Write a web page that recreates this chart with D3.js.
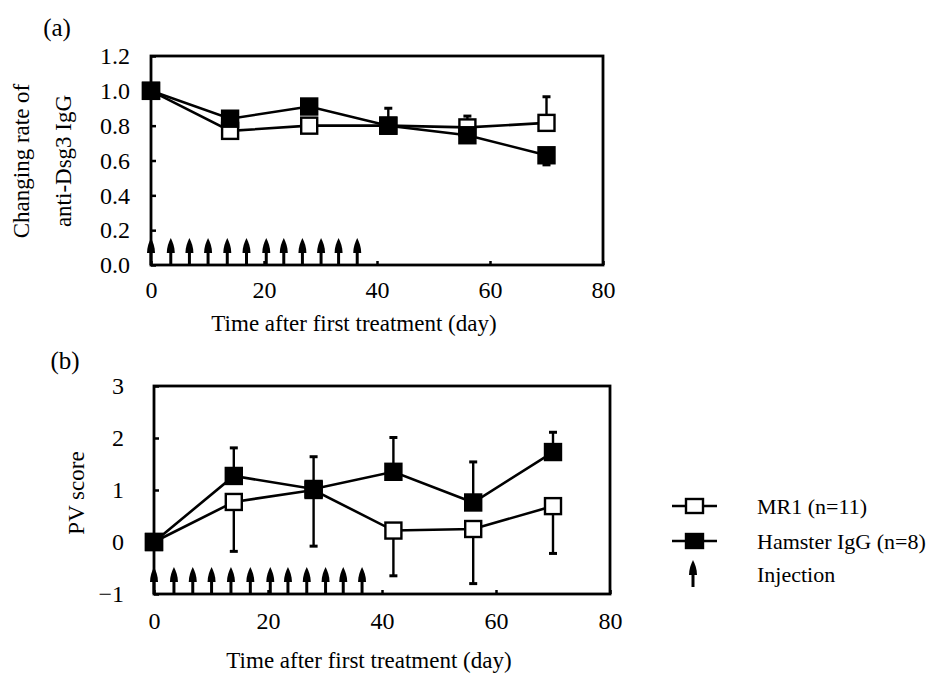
<!DOCTYPE html>
<html>
<head>
<meta charset="utf-8">
<script src="https://cdn.jsdelivr.net/npm/d3@7"></script>
<style>
  body { margin: 0; background: #fff; }
  svg text { font-family: "Liberation Serif", "Times New Roman", Times, "DejaVu Serif", serif; fill: #000; }
</style>
</head>
<body>
<div id="chart"></div>
<script>
// ---------------- data ----------------
var days = [0, 14, 28, 42, 56, 70];
var injectionDays = [0, 3.5, 6.8, 10.1, 13.5, 16.9, 20.4, 23.5, 26.8, 30.1, 33.2, 36.5];

// (a) changing rate of anti-Dsg3 IgG
var rateMR1 = [1.0, 0.77, 0.80, 0.80, 0.79, 0.816];
var rateMR1Err = [0, 0, 0, 0.10, 0.065, 0.15];      // drawn upward
var rateHam = [1.0, 0.84, 0.91, 0.80, 0.745, 0.63];
var rateHamErr = [0, 0, 0, 0, 0, 0.055];             // drawn downward

// (b) PV score
var scoreMR1 = [0, 0.77, 1.0, 0.22, 0.25, 0.69];
var scoreMR1Err = [0, 0.95, 1.08, 0.87, 1.05, 0.91]; // drawn downward
var scoreHam = [0, 1.27, 1.02, 1.35, 0.76, 1.73];
var scoreHamErr = [0, 0.54, 0.62, 0.66, 0.78, 0.38]; // drawn upward

var xTicks = [0, 20, 40, 60, 80];
var rateTicks = [0, 0.2, 0.4, 0.6, 0.8, 1.0, 1.2];
var scoreTicks = [-1, 0, 1, 2, 3];
var legendLabels = ["MR1 (n=11)", "Hamster IgG (n=8)", "Injection"];

// ---------------- drawing ----------------
var svg = d3.select("#chart").append("svg")
    .attr("width", 939)
    .attr("height", 679);

// upward injection arrow standing on the x axis
function drawArrow(g, x, yBase, len) {
  g.append("line")
    .attr("x1", x).attr("x2", x)
    .attr("y1", yBase).attr("y2", yBase - len + 10)
    .attr("stroke", "#000").attr("stroke-width", 3);
  g.append("path")
    .attr("d", "M" + x + "," + (yBase - len) +
               " C" + (x + 2) + "," + (yBase - len + 4) + " " + (x + 4) + "," + (yBase - len + 9) +
               " " + (x + 4) + "," + (yBase - len + 15) +
               " L" + (x - 4) + "," + (yBase - len + 15) +
               " C" + (x - 4) + "," + (yBase - len + 9) + " " + (x - 2) + "," + (yBase - len + 4) +
               " " + x + "," + (yBase - len) + " Z")
    .attr("fill", "#000");
}

function styleAxis(a) {
  a.attr("font-family", null).attr("font-size", null);
  a.select(".domain").remove();
  a.selectAll("line").attr("stroke-width", 2.5);
  a.selectAll("text").style("font-size", "24px");
}

function drawPanel(p) {
  var g = svg.append("g");

  var x = d3.scaleLinear().domain([0, 80]).range([p.left, p.right]);
  var y = d3.scaleLinear().domain(p.yDomain).range([p.bottom, p.top]);

  // axes with inward ticks
  g.append("g")
    .attr("transform", "translate(0," + p.bottom + ")")
    .call(d3.axisBottom(x).tickValues(xTicks).tickSize(-4).tickPadding(p.xPad))
    .call(styleAxis);

  g.append("g")
    .attr("transform", "translate(" + p.left + ",0)")
    .call(d3.axisLeft(y).tickValues(p.yTicks).tickFormat(p.yFormat).tickSize(-5).tickPadding(p.yPad))
    .call(styleAxis);

  // frame
  g.append("rect")
    .attr("x", p.left).attr("y", p.top)
    .attr("width", p.right - p.left).attr("height", p.bottom - p.top)
    .attr("fill", "none").attr("stroke", "#000").attr("stroke-width", 2.8);

  // injection arrows
  injectionDays.forEach(function(d) { drawArrow(g, x(d), p.bottom, 27); });

  var series = [
    {vals: p.mr1, err: p.mr1Err, dir: p.mr1Dir, fill: "#fff"},
    {vals: p.ham, err: p.hamErr, dir: p.hamDir, fill: "#000"}
  ];

  series.forEach(function(s) {
    // error bars
    days.forEach(function(d, i) {
      if (!s.err[i]) return;
      var yEnd = y(s.vals[i] + s.dir * s.err[i]);
      g.append("line")
        .attr("x1", x(d)).attr("x2", x(d))
        .attr("y1", y(s.vals[i])).attr("y2", yEnd)
        .attr("stroke", "#000").attr("stroke-width", 2.4);
      g.append("line")
        .attr("x1", x(d) - 4).attr("x2", x(d) + 4)
        .attr("y1", yEnd).attr("y2", yEnd)
        .attr("stroke", "#000").attr("stroke-width", 3);
    });

    // connecting line
    g.append("path")
      .datum(days.map(function(d, i) { return [d, s.vals[i]]; }))
      .attr("fill", "none").attr("stroke", "#000").attr("stroke-width", 2.6)
      .attr("d", d3.line().x(function(d) { return x(d[0]); }).y(function(d) { return y(d[1]); }));

    // markers
    g.selectAll(null)
      .data(days.map(function(d, i) { return [d, s.vals[i]]; }))
      .enter().append("rect")
      .attr("x", function(d) { return x(d[0]) - 8; })
      .attr("y", function(d) { return y(d[1]) - 8; })
      .attr("width", 16).attr("height", 16)
      .attr("fill", s.fill).attr("stroke", "#000").attr("stroke-width", 2.4);
  });

  // panel letter
  g.append("text").attr("x", p.letterX).attr("y", p.letterY)
    .attr("text-anchor", "middle").attr("dy", "0.35em")
    .style("font-size", "25px").text(p.letter);

  // x title
  g.append("text").attr("x", p.titleX).attr("y", p.titleY)
    .attr("text-anchor", "middle").attr("dy", "0.35em")
    .style("font-size", "23px").text("Time after first treatment (day)");

  // y title (one or more lines)
  p.yTitle.forEach(function(t, i) {
    g.append("text")
      .attr("transform", "translate(" + p.yTitleX[i] + "," + p.yTitleY + ") rotate(-90)")
      .attr("text-anchor", "middle").attr("dy", "0.35em")
      .style("font-size", "23px").text(t);
  });
}

drawPanel({
  left: 151, right: 603, top: 56, bottom: 265,
  yDomain: [0, 1.2], yTicks: rateTicks, yFormat: d3.format(".1f"), yPad: 21, xPad: 16,
  mr1: rateMR1, mr1Err: rateMR1Err, mr1Dir: 1,
  ham: rateHam, hamErr: rateHamErr, hamDir: -1,
  letter: "(a)", letterX: 57, letterY: 27,
  titleX: 354, titleY: 323,
  yTitle: ["Changing rate of", "anti-Dsg3 IgG"], yTitleX: [21, 63], yTitleY: 161
});

drawPanel({
  left: 154, right: 610, top: 386, bottom: 594,
  yDomain: [-1, 3], yTicks: scoreTicks, yFormat: d3.format("d"), yPad: 30, xPad: 18,
  mr1: scoreMR1, mr1Err: scoreMR1Err, mr1Dir: -1,
  ham: scoreHam, hamErr: scoreHamErr, hamDir: 1,
  letter: "(b)", letterX: 65, letterY: 360,
  titleX: 369, titleY: 660,
  yTitle: ["PV score"], yTitleX: [76], yTitleY: 493
});

// ---------------- legend ----------------
var lg = svg.append("g");
var legendY = [506, 541, 574];
var fills = ["#fff", "#000"];
legendLabels.forEach(function(t, i) {
  var cy = legendY[i];
  if (i < 2) {
    lg.append("line").attr("x1", 672).attr("x2", 717).attr("y1", cy).attr("y2", cy)
      .attr("stroke", "#000").attr("stroke-width", 2.6);
    lg.append("rect").attr("x", 686).attr("y", cy - 7).attr("width", 17).attr("height", 14)
      .attr("fill", fills[i]).attr("stroke", "#000").attr("stroke-width", 2.4);
  } else {
    drawArrow(lg, 693, 587, 27);
  }
  lg.append("text").attr("x", 757).attr("y", cy).attr("dy", "0.35em")
    .style("font-size", "22px").text(t);
});
</script>
</body>
</html>
